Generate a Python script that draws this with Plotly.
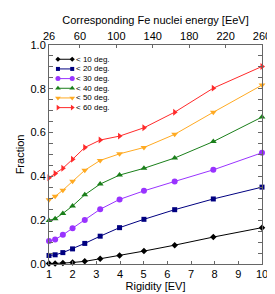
import plotly.graph_objects as go

# ---- data ----
rigidity = [1.0, 1.259, 1.585, 1.995, 2.512, 3.162, 3.981, 5.012, 6.310, 7.943, 10.0]

frac_10 = [0.002, 0.002, 0.004, 0.007, 0.012, 0.024, 0.039, 0.059, 0.086, 0.123, 0.166]
frac_20 = [0.039, 0.042, 0.052, 0.069, 0.094, 0.127, 0.166, 0.204, 0.248, 0.297, 0.351]
frac_30 = [0.105, 0.112, 0.133, 0.163, 0.201, 0.250, 0.295, 0.334, 0.377, 0.430, 0.508]
frac_40 = [0.199, 0.207, 0.231, 0.265, 0.316, 0.365, 0.406, 0.437, 0.484, 0.559, 0.671]
frac_50 = [0.293, 0.309, 0.337, 0.378, 0.428, 0.473, 0.503, 0.532, 0.592, 0.693, 0.817]
frac_60 = [0.394, 0.413, 0.437, 0.478, 0.532, 0.566, 0.584, 0.622, 0.693, 0.803, 0.902]

series_names = ["< 10 deg.", "< 20 deg.", "< 30 deg.", "< 40 deg.", "< 50 deg.", "< 60 deg."]
series_values = [frac_10, frac_20, frac_30, frac_40, frac_50, frac_60]
series_colors = ["#000000", "#000080", "#9933ff", "#1a7f1a", "#ffaa22", "#ff2a2a"]
series_symbols = ["diamond", "square", "circle", "triangle-up", "triangle-down", "triangle-right"]
series_sizes = [5, 5, 6, 6, 6, 6]

x_ticks = [1, 2, 3, 4, 5, 6, 7, 8, 9, 10]
y_ticks = [0.0, 0.2, 0.4, 0.6, 0.8, 1.0]
y_ticklabels = ["0.0", "0.2", "0.4", "0.6", "0.8", "1.0"]
energy_ticks = [26, 60, 100, 140, 180, 220, 260]
legend_swatch_x = [0, 1]

FONT = "Liberation Sans, Arial, sans-serif"
AXCOL = "#666666"

fig = go.Figure()

for name, vals, col, sym, sz in zip(series_names, series_values, series_colors,
                                    series_symbols, series_sizes):
    fig.add_trace(go.Scatter(
        x=rigidity, y=vals, mode="lines+markers", name=name,
        line=dict(color=col, width=1),
        marker=dict(color=col, symbol=sym, size=sz, line=dict(width=0)),
        showlegend=False, cliponaxis=False,
    ))

# invisible trace on the top (energy) axis
fig.add_trace(go.Scatter(
    x=energy_ticks, y=[0.5] * len(energy_ticks), xaxis="x3", yaxis="y",
    mode="markers", marker=dict(opacity=0), showlegend=False, hoverinfo="skip",
))

# legend drawn in a small inset subplot
for i, (name, col, sym, sz) in enumerate(zip(series_names, series_colors,
                                            series_symbols, series_sizes)):
    fig.add_trace(go.Scatter(
        x=legend_swatch_x, y=[i] * len(legend_swatch_x), xaxis="x2", yaxis="y2",
        mode="lines+markers", line=dict(color=col, width=1),
        marker=dict(color=col, symbol=sym, size=sz - 1, line=dict(width=0)),
        showlegend=False, hoverinfo="skip", cliponaxis=False,
    ))
    fig.add_annotation(
        xref="x2", yref="y2", x=1, y=i, text=name, showarrow=False,
        xanchor="left", yanchor="middle", xshift=3, borderpad=0,
        font=dict(family=FONT, size=8, color="#000000"),
    )

fig.update_layout(
    width=275, height=294,
    margin=dict(l=35, r=17, t=34, b=38),
    paper_bgcolor="white", plot_bgcolor="white",
    font=dict(family=FONT, size=11, color="#000000"),
    xaxis=dict(
        range=[1, 10], tickvals=x_ticks, ticks="inside", ticklen=3,
        tickcolor=AXCOL, showline=True, linecolor=AXCOL, linewidth=1,
        showgrid=False, zeroline=False, mirror=False,
        title=dict(text="Rigidity [EV]", standoff=0, font=dict(size=11)),
        tickfont=dict(size=11),
    ),
    xaxis3=dict(
        overlaying="x", side="top", anchor="y", range=[26, 260],
        tickvals=energy_ticks, ticks="inside", ticklen=3, tickcolor=AXCOL,
        showline=True, linecolor=AXCOL, linewidth=1, showgrid=False,
        zeroline=False,
        title=dict(text="Corresponding Fe nuclei energy [EeV]", standoff=2,
                   font=dict(size=11)),
        tickfont=dict(size=11),
    ),
    yaxis=dict(
        range=[0, 1], tickvals=y_ticks, ticktext=y_ticklabels,
        ticks="inside", ticklen=4, tickcolor=AXCOL,
        minor=dict(dtick=0.05, ticks="inside", ticklen=2, tickcolor=AXCOL),
        showline=True, linecolor=AXCOL, linewidth=1, mirror="allticks",
        showgrid=False, zeroline=False,
        title=dict(text="Fraction", standoff=3, font=dict(size=11)),
        tickfont=dict(size=11),
    ),
    xaxis2=dict(domain=[0.042, 0.109], range=[0, 1], visible=False,
                anchor="y2", fixedrange=True),
    yaxis2=dict(domain=[0.692, 0.957], range=[5.5, -0.5], visible=False,
                anchor="x2", fixedrange=True),
)

fig.write_html("out.html")
